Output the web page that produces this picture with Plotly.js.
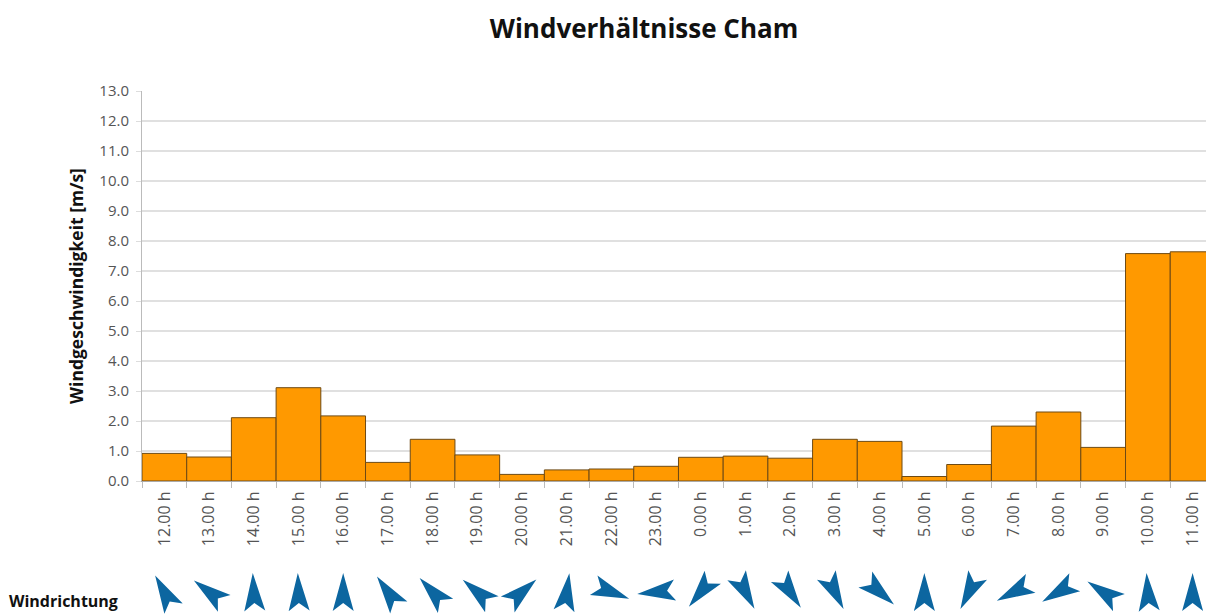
<!DOCTYPE html>
<html>
<head>
<meta charset="utf-8">
<script src="https://cdn.plot.ly/plotly-3.0.1.min.js"></script>
<style>html,body{margin:0;padding:0;background:#fff;}#chart{width:1206px;height:614px;}</style>
</head>
<body>
<div id="chart"></div>
<script>
// Hour labels (categories)
const hours = ["12.00 h","13.00 h","14.00 h","15.00 h","16.00 h","17.00 h","18.00 h","19.00 h",
  "20.00 h","21.00 h","22.00 h","23.00 h","0.00 h","1.00 h","2.00 h","3.00 h","4.00 h","5.00 h",
  "6.00 h","7.00 h","8.00 h","9.00 h","10.00 h","11.00 h"];
// Wind speed [m/s]
const windSpeed = [0.92, 0.80, 2.11, 3.11, 2.17, 0.62, 1.39, 0.87, 0.22, 0.37, 0.40, 0.49,
  0.79, 0.83, 0.76, 1.39, 1.32, 0.15, 0.55, 1.83, 2.30, 1.12, 7.58, 7.64];
// Wind direction: bearing the arrow points to (degrees, clockwise from north)
const windDirection = [331, 307, 357, 358, 0, 325, 317, 310, 49, 8, 111, 264,
  219, 152, 146, 153, 131, 0, 207, 243, 239, 304, 356, 0];
// y-axis ticks
const yTicks = [0,1,2,3,4,5,6,7,8,9,10,11,12,13];

// layout constants
const W = 1206, H = 614, mL = 142, mR = 0, mT = 91, mB = 0;
const plotW = W - mL - mR, plotH = H - mT - mB;
const xRange = [-0.5, 23.3];
const pxPerUnit = plotW / (xRange[1] - xRange[0]);
const arrowBandPx = 48;
const arrowCenterPx = 22;
const barBottomPx = H - 481;

// arrow polygons (local pixel shape pointing up, rotated by bearing)
const shape = [[0,19],[10.5,-19],[0,-11],[-10.5,-19],[0,19]];
const ax = [], ay = [];
const cy = arrowCenterPx / pxPerUnit;
windDirection.forEach((deg, i) => {
  const t = deg * Math.PI / 180;
  shape.forEach(([px, py]) => {
    const xr = px * Math.cos(t) + py * Math.sin(t);
    const yr = -px * Math.sin(t) + py * Math.cos(t);
    ax.push(i + xr / pxPerUnit);
    ay.push(cy + yr / pxPerUnit);
  });
  ax.push(null); ay.push(null);
});

const fontFam = '"Open Sans", "Noto Sans", "DejaVu Sans", sans-serif';

const traces = [
  {
    type: 'bar', x: hours, y: windSpeed, xaxis: 'x', yaxis: 'y',
    marker: {color: '#FF9900', line: {color: '#6e4a14', width: 1}},
    hoverinfo: 'skip'
  },
  {
    type: 'scatter', mode: 'lines', x: ax, y: ay, xaxis: 'x2', yaxis: 'y2',
    fill: 'toself', fillcolor: '#0c66a0', line: {width: 0, color: '#0c66a0'},
    connectgaps: false, hoverinfo: 'skip'
  }
];

const layout = {
  width: W, height: H,
  margin: {l: mL, r: mR, t: mT, b: mB, pad: 0},
  paper_bgcolor: '#ffffff', plot_bgcolor: 'rgba(0,0,0,0)',
  showlegend: false, bargap: 0,
  font: {family: fontFam, color: '#555'},
  title: {
    text: '<b>Windverhältnisse Cham</b>',
    font: {family: fontFam, size: 26, color: '#111'},
    xref: 'container', yref: 'container', x: 644 / W, xanchor: 'center',
    y: 1 - 29 / H, yanchor: 'middle'
  },
  xaxis: {
    type: 'category', domain: [0, 1], anchor: 'y', range: xRange,
    tickson: 'boundaries', ticks: 'outside', ticklen: 6, tickcolor: '#bbb', tickwidth: 1,
    showline: true, linecolor: '#aaa', linewidth: 1,
    tickangle: -90, tickfont: {size: 16, color: '#555', family: fontFam},
    ticklabelstandoff: 3,
    showgrid: false, fixedrange: true
  },
  yaxis: {
    domain: [barBottomPx / plotH, 1], anchor: 'x', range: [0, 13],
    tickvals: yTicks, tickformat: '.1f',
    ticks: 'outside', ticklen: 5, tickcolor: '#ddd',
    showline: true, linecolor: '#bbb', linewidth: 1,
    showgrid: true, gridcolor: '#e0e0e0', gridwidth: 1.5, zeroline: false,
    tickfont: {size: 15, color: '#555', family: fontFam},
    ticklabelstandoff: 4,
    title: {text: '<b>Windgeschwindigkeit [m/s]</b>', font: {size: 17.5, color: '#111', family: fontFam}, standoff: 11},
    fixedrange: true
  },
  xaxis2: {
    domain: [0, 1], anchor: 'y2', range: xRange, visible: false, fixedrange: true
  },
  yaxis2: {
    domain: [0, arrowBandPx / plotH], anchor: 'x2', range: [0, arrowBandPx / pxPerUnit],
    visible: false, fixedrange: true
  },
  annotations: [{
    text: '<b>Windrichtung</b>', xref: 'paper', yref: 'paper',
    x: (7 - mL) / plotW, xanchor: 'left', y: (H - 601) / plotH, yanchor: 'middle',
    showarrow: false, font: {size: 16, color: '#111', family: fontFam}
  }]
};

Plotly.newPlot('chart', traces, layout, {displayModeBar: false, staticPlot: true});
</script>
</body>
</html>
